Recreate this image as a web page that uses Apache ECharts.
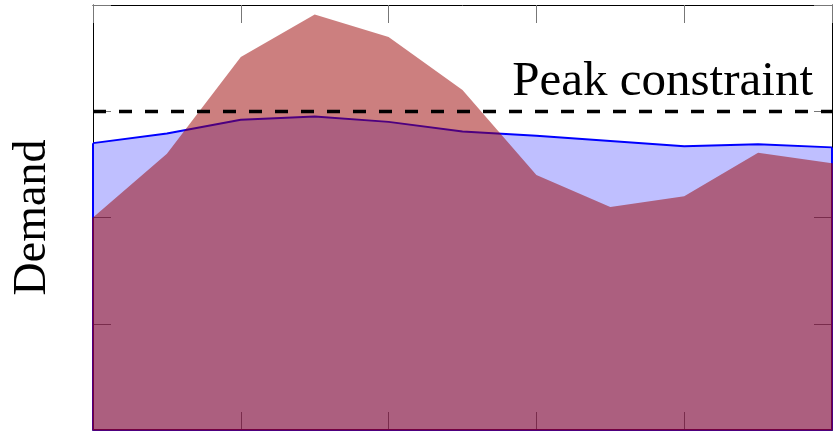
<!DOCTYPE html>
<html>
<head>
<meta charset="utf-8">
<style>
  html, body { margin: 0; padding: 0; background: #fff; }
  #chart { width: 834px; height: 433px; }
</style>
</head>
<body>
<div id="chart"></div>
<script src="https://cdn.jsdelivr.net/npm/echarts@6/dist/echarts.min.js"></script>
<script>
// 时间点 0..10
var hours = [0, 1, 2, 3, 4, 5, 6, 7, 8, 9, 10];
// 平滑后的需求（蓝色）
var flatDemand = [2.70, 2.79, 2.92, 2.95, 2.90, 2.81, 2.77, 2.72, 2.67, 2.69, 2.66];
// 原始需求（红色）
var rawDemand = [2.00, 2.60, 3.51, 3.91, 3.70, 3.20, 2.40, 2.10, 2.20, 2.61, 2.51];
// 峰值约束
var peakLimit = 3;
var peakLabel = 'Peak constraint';
var yTitle = 'Demand';

function pairs(xs, ys) {
    return xs.map(function (x, i) { return [x, ys[i]]; });
}

// 闭合边：最后一点 -> 底边 -> 第一点（像 \closedcycle）
function cycleEdges(xs, ys) {
    var n = xs.length;
    return [[xs[n - 1], ys[n - 1]], [xs[n - 1], 0], [xs[0], 0], [xs[0], ys[0]]];
}

var serif = '"Liberation Serif", "DejaVu Serif", serif';
var tickStyle = { show: true, inside: true, length: 18, lineStyle: { color: '#777', width: 1 } };
var lineStyleAxis = { show: true, onZero: false, lineStyle: { color: '#000', width: 1 } };

var chart = echarts.init(document.getElementById('chart'));

var option = {
    animation: false,
    grid: { left: 93, right: 2, top: 5, bottom: 3, containLabel: false, outerBoundsMode: 'none' },
    xAxis: [{
        type: 'value', min: 0, max: 10, interval: 2, position: 'bottom',
        axisLine: lineStyleAxis, axisTick: tickStyle,
        axisLabel: { show: false }, splitLine: { show: false }
    }, {
        type: 'value', min: 0, max: 10, interval: 2, position: 'top',
        axisLine: lineStyleAxis, axisTick: tickStyle,
        axisLabel: { show: false }, splitLine: { show: false }
    }],
    yAxis: [{
        type: 'value', min: 0, max: 4, interval: 1, position: 'left',
        name: yTitle, nameLocation: 'middle', nameRotate: 90, nameGap: 37,
        nameTextStyle: { fontFamily: serif, fontSize: 46, color: '#000' },
        axisLine: lineStyleAxis, axisTick: tickStyle,
        axisLabel: { show: false }, splitLine: { show: false }
    }, {
        type: 'value', min: 0, max: 4, interval: 1, position: 'right',
        axisLine: lineStyleAxis, axisTick: tickStyle,
        axisLabel: { show: false }, splitLine: { show: false }
    }],
    series: [{
        type: 'line',
        data: pairs(hours, flatDemand),
        symbol: 'none',
        z: 2,
        lineStyle: { color: '#0000ff', width: 2 },
        areaStyle: { color: 'rgba(0,0,255,0.25)', opacity: 1 }
    }, {
        // 蓝色区域的闭合边
        type: 'line',
        data: cycleEdges(hours, flatDemand),
        symbol: 'none',
        z: 2,
        lineStyle: { color: '#0000ff', width: 2 }
    }, {
        type: 'line',
        data: pairs(hours, rawDemand),
        symbol: 'none',
        z: 3,
        lineStyle: { width: 0, opacity: 0 },
        areaStyle: { color: 'rgba(153,0,0,0.5)', opacity: 1 }
    }, {
        // 红色区域的闭合边（半透明，压在蓝边上成紫色）
        type: 'line',
        data: cycleEdges(hours, rawDemand),
        symbol: 'none',
        z: 3,
        lineStyle: { color: 'rgba(153,0,0,0.5)', width: 2 }
    }, {
        type: 'line',
        data: [],
        z: 4,
        markLine: {
            silent: true,
            symbol: 'none',
            lineStyle: { color: '#000', width: 3.3, type: [13, 13] },
            label: {
                show: true,
                position: 'insideEndTop',
                distance: [19, 5],
                formatter: peakLabel,
                fontFamily: serif,
                fontSize: 49,
                color: '#000'
            },
            data: [{ yAxis: peakLimit }]
        }
    }]
};

chart.setOption(option);
</script>
</body>
</html>
